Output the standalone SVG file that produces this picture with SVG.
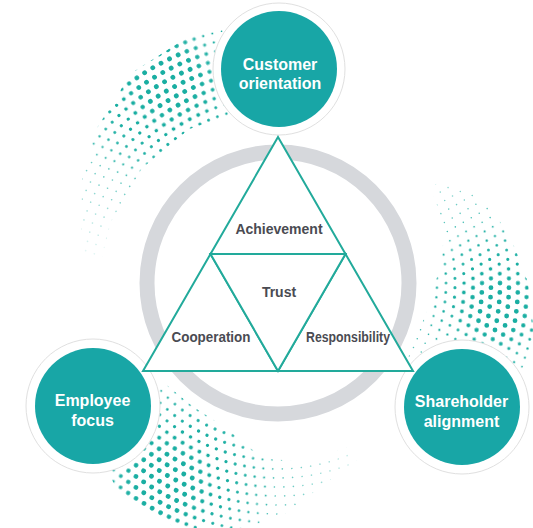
<svg xmlns="http://www.w3.org/2000/svg" xmlns:xlink="http://www.w3.org/1999/xlink" width="533" height="528" viewBox="0 0 533 528">
<style>
.rows circle{fill:none;stroke-dasharray:0 1;stroke-linecap:round}
.rows .o{stroke-dashoffset:0.5}
.dots{stroke:#1aaea2}
.node-outer{fill:#fff;stroke:#e0e0e0;stroke-width:1}
.node-inner{fill:#18a6a6}
.nl{font-family:"Liberation Sans",Arial,sans-serif;font-weight:700;font-size:16px;fill:#fff;text-anchor:middle}
.tl{font-family:"Liberation Sans",Arial,sans-serif;font-weight:700;font-size:14px;fill:#4a4b52;text-anchor:middle}
.tri{fill:#fff;stroke:#22aa9b;stroke-width:2;stroke-linejoin:miter}
</style>
<defs>
<g id="rows" class="rows">
<circle r="150" pathLength="99"/>
<circle class="o" r="159" pathLength="105"/>
<circle r="168" pathLength="111"/>
<circle class="o" r="177" pathLength="117"/>
<circle r="186" pathLength="123"/>
<circle class="o" r="195" pathLength="129"/>
<circle r="204" pathLength="135"/>
<circle class="o" r="213" pathLength="141"/>
<circle r="222" pathLength="147"/>
<circle class="o" r="231" pathLength="153"/>
<circle r="240" pathLength="159"/>
<circle class="o" r="249" pathLength="165"/>
<circle r="258" pathLength="171"/>
<circle class="o" r="267" pathLength="177"/>
</g>
<clipPath id="cA"><polygon points="250.6,22.4 188.4,36.8 131.2,73.3 95.7,130 82,178.8 81,222.8 83.9,255.7 101.7,258.2 110.7,222.1 141.7,168.6 189,128.9 259.4,106"/></clipPath>
<clipPath id="cB"><polygon points="440.8,181.3 472.9,192.1 494.9,212.5 515.7,249.6 528,283 534.3,337.5 504.9,414 407.9,358 427.7,309.4 439.4,268.9 445.4,228.6 430.6,187.6"/></clipPath>
<clipPath id="cC"><polygon points="88.9,430.8 116.7,489.5 178.4,529.6 242.9,532.6 286,512.9 321.2,486.4 356.9,460.2 350.4,445.6 309.6,462.2 262.7,458.3 225.3,427.7 192,405.9 157,377"/></clipPath>
<radialGradient id="gA1" gradientUnits="userSpaceOnUse" cx="185" cy="75" r="210"><stop offset="0" stop-color="#fff"/><stop offset="0.35" stop-color="#fff"/><stop offset="1" stop-color="#111"/></radialGradient>
<radialGradient id="gA2" gradientUnits="userSpaceOnUse" cx="158" cy="95" r="90"><stop offset="0" stop-color="#fff"/><stop offset="0.5" stop-color="#fff"/><stop offset="1" stop-color="#000"/></radialGradient>
<radialGradient id="gA3" gradientUnits="userSpaceOnUse" cx="168" cy="80" r="55"><stop offset="0" stop-color="#fff"/><stop offset="0.5" stop-color="#fff"/><stop offset="1" stop-color="#000"/></radialGradient>
<radialGradient id="gB1" gradientUnits="userSpaceOnUse" cx="500" cy="305" r="180"><stop offset="0" stop-color="#fff"/><stop offset="0.35" stop-color="#fff"/><stop offset="1" stop-color="#111"/></radialGradient>
<radialGradient id="gB2" gradientUnits="userSpaceOnUse" cx="497" cy="298" r="78"><stop offset="0" stop-color="#fff"/><stop offset="0.5" stop-color="#fff"/><stop offset="1" stop-color="#000"/></radialGradient>
<radialGradient id="gB3" gradientUnits="userSpaceOnUse" cx="498" cy="308" r="45"><stop offset="0" stop-color="#fff"/><stop offset="0.5" stop-color="#fff"/><stop offset="1" stop-color="#000"/></radialGradient>
<radialGradient id="gC1" gradientUnits="userSpaceOnUse" cx="165" cy="480" r="210"><stop offset="0" stop-color="#fff"/><stop offset="0.35" stop-color="#fff"/><stop offset="1" stop-color="#111"/></radialGradient>
<radialGradient id="gC2" gradientUnits="userSpaceOnUse" cx="180" cy="475" r="95"><stop offset="0" stop-color="#fff"/><stop offset="0.5" stop-color="#fff"/><stop offset="1" stop-color="#000"/></radialGradient>
<radialGradient id="gC3" gradientUnits="userSpaceOnUse" cx="165" cy="482" r="55"><stop offset="0" stop-color="#fff"/><stop offset="0.5" stop-color="#fff"/><stop offset="1" stop-color="#000"/></radialGradient>
<mask id="mA1" maskUnits="userSpaceOnUse" x="0" y="0" width="533" height="528"><rect width="533" height="528" fill="url(#gA1)"/></mask>
<mask id="mA2" maskUnits="userSpaceOnUse" x="0" y="0" width="533" height="528"><rect width="533" height="528" fill="url(#gA2)"/></mask>
<mask id="mA3" maskUnits="userSpaceOnUse" x="0" y="0" width="533" height="528"><rect width="533" height="528" fill="url(#gA3)"/></mask>
<mask id="mB1" maskUnits="userSpaceOnUse" x="0" y="0" width="533" height="528"><rect width="533" height="528" fill="url(#gB1)"/></mask>
<mask id="mB2" maskUnits="userSpaceOnUse" x="0" y="0" width="533" height="528"><rect width="533" height="528" fill="url(#gB2)"/></mask>
<mask id="mB3" maskUnits="userSpaceOnUse" x="0" y="0" width="533" height="528"><rect width="533" height="528" fill="url(#gB3)"/></mask>
<mask id="mC1" maskUnits="userSpaceOnUse" x="0" y="0" width="533" height="528"><rect width="533" height="528" fill="url(#gC1)"/></mask>
<mask id="mC2" maskUnits="userSpaceOnUse" x="0" y="0" width="533" height="528"><rect width="533" height="528" fill="url(#gC2)"/></mask>
<mask id="mC3" maskUnits="userSpaceOnUse" x="0" y="0" width="533" height="528"><rect width="533" height="528" fill="url(#gC3)"/></mask>
</defs>
<rect width="533" height="528" fill="#fff"/>
<g id="halftone">
<g clip-path="url(#cA)">
<g mask="url(#mA1)"><use href="#rows" xlink:href="#rows" class="dots" stroke-width="1.6" transform="translate(278 283) rotate(230)"/></g>
<g mask="url(#mA2)"><use href="#rows" xlink:href="#rows" class="dots" stroke-width="3.2" transform="translate(278 283) rotate(230)"/></g>
<g mask="url(#mA3)"><use href="#rows" xlink:href="#rows" class="dots" stroke-width="4.8" transform="translate(278 283) rotate(230)"/></g>
</g>
<g clip-path="url(#cB)">
<g mask="url(#mB1)"><use href="#rows" xlink:href="#rows" class="dots" stroke-width="1.6" transform="translate(278 283) rotate(0)"/></g>
<g mask="url(#mB2)"><use href="#rows" xlink:href="#rows" class="dots" stroke-width="3.2" transform="translate(278 283) rotate(0)"/></g>
<g mask="url(#mB3)"><use href="#rows" xlink:href="#rows" class="dots" stroke-width="4.8" transform="translate(278 283) rotate(0)"/></g>
</g>
<g clip-path="url(#cC)">
<g mask="url(#mC1)"><use href="#rows" xlink:href="#rows" class="dots" stroke-width="1.6" transform="translate(278 283) rotate(115)"/></g>
<g mask="url(#mC2)"><use href="#rows" xlink:href="#rows" class="dots" stroke-width="3.2" transform="translate(278 283) rotate(115)"/></g>
<g mask="url(#mC3)"><use href="#rows" xlink:href="#rows" class="dots" stroke-width="4.8" transform="translate(278 283) rotate(115)"/></g>
</g>
</g>
<circle id="ring" cx="278" cy="283" r="131" fill="none" stroke="#d6d8dc" stroke-width="15"/>
<g id="customer-orientation">
<circle class="node-outer" cx="279" cy="69" r="66"/>
<circle class="node-inner" cx="279" cy="69" r="58"/>
<text class="nl" x="280" y="69.5">Customer</text>
<text class="nl" x="280" y="88.5">orientation</text>
</g>
<g id="employee-focus">
<circle class="node-outer" cx="93" cy="406" r="67"/>
<circle class="node-inner" cx="93" cy="406" r="58"/>
<text class="nl" x="92.5" y="405.5">Employee</text>
<text class="nl" x="92.5" y="426">focus</text>
</g>
<g id="shareholder-alignment">
<circle class="node-outer" cx="462" cy="407" r="67"/>
<circle class="node-inner" cx="462" cy="407" r="58"/>
<text class="nl" x="461.5" y="406.5">Shareholder</text>
<text class="nl" x="461.5" y="426.5">alignment</text>
</g>
<g id="achievement">
<polygon class="tri" points="278,137 210.5,254 345.5,254"/>
<text class="tl" x="279" y="233.5">Achievement</text>
</g>
<g id="cooperation">
<polygon class="tri" points="210.5,254 143,371 278,371"/>
<text class="tl" x="211" y="341.5" textLength="79" lengthAdjust="spacingAndGlyphs">Cooperation</text>
</g>
<g id="responsibility">
<polygon class="tri" points="345.5,254 278,371 413,371"/>
<text class="tl" x="348" y="341.5" textLength="84" lengthAdjust="spacingAndGlyphs">Responsibility</text>
</g>
<g id="trust">
<polygon class="tri" points="210.5,254 345.5,254 278,371"/>
<text class="tl" x="279" y="296.5">Trust</text>
</g>
</svg>
